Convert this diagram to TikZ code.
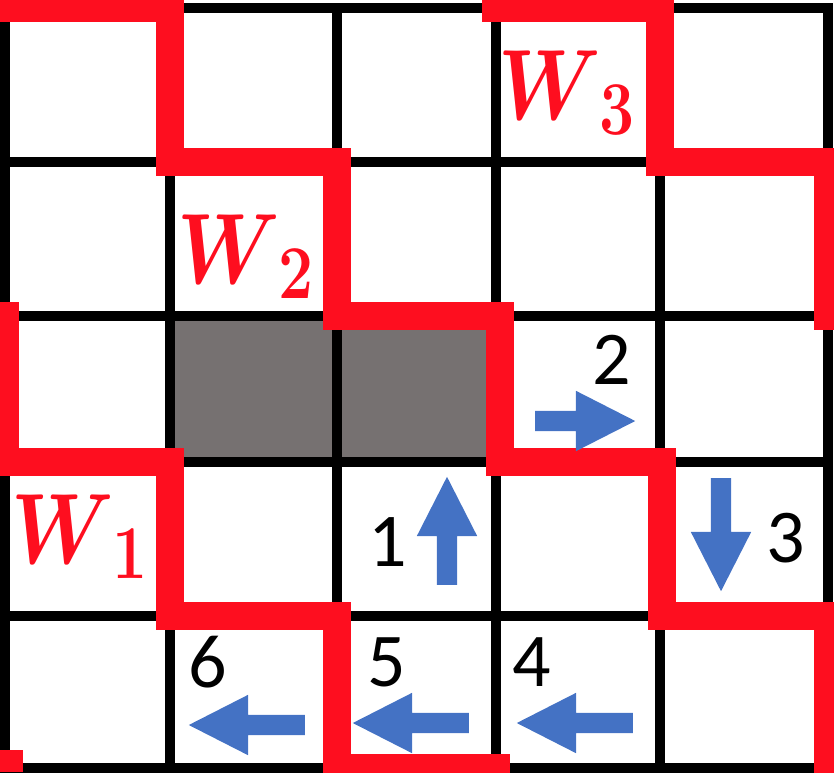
\documentclass[tikz,border=0pt]{standalone}
\usepackage{fix-cm}
\usepackage{fontspec}
\newfontfamily\numfont{Carlito}
\usetikzlibrary{shapes.arrows}
\definecolor{wallred}{RGB}{254,14,31}
\definecolor{blockgray}{RGB}{118,113,113}
\definecolor{moveblue}{RGB}{68,114,196}
\begin{document}
\begin{tikzpicture}[x=1pt,y=-1pt,
  gridline/.style={line width=10pt,line cap=rect},
  wall/.style={wallred,line width=28pt,line cap=rect,line join=miter},
  move/.style={single arrow,fill=moveblue,inner xsep=0pt,inner ysep=10pt,anchor=tail,
    single arrow head extend=20pt,single arrow tip angle=54,minimum height=#1},
  num/.style={inner sep=0pt,font=\numfont\fontsize{76}{80}\selectfont},
  wlabel/.style={inner sep=0pt,xscale=0.82,text=wallred,font=\fontsize{100}{100}\selectfont\boldmath}]
\useasboundingbox (0,0) rectangle (834,772);
\fill[blockgray] (170,316) rectangle (496,462);
\foreach \x in {5,170,337,496,660,828} \draw[gridline] (\x,8) -- (\x,768);
\foreach \y in {8,162,316,462,616,768} \draw[gridline] (5,\y) -- (828,\y);
\draw[wall] (496,8) -- (660,8) -- (660,162) -- (828,162) -- (828,316);
\draw[wall] (5,8) -- (170,8) -- (170,162) -- (337,162) -- (337,316) -- (500,316)
  -- (500,462) -- (662,462) -- (662,616) -- (828,616) -- (828,768);
\draw[wall] (5,316) -- (5,462) -- (170,462) -- (170,616) -- (337,616) -- (337,768) -- (496,768);
\fill[wallred] (0,750) rectangle (23,772);
\node[wlabel] (w1) at (80,537) {$W_{\,\mbox{\fontsize{76}{76}\selectfont\bfseries 1}}$};
\node[wlabel] (w2) at (246,257) {$W_{\,\mbox{\fontsize{76}{76}\selectfont\bfseries 2}}$};
\node[wlabel] (w3) at (567,93) {$W_{\,\mbox{\fontsize{76}{76}\selectfont\bfseries 3}}$};
\node[move=108pt,rotate=90] (a1) at (447,585) {};
\node[move=100pt] (a2) at (535,421) {};
\node[move=113pt,rotate=-90] (a3) at (721,478) {};
\node[move=116pt,rotate=180] (a4) at (633,723) {};
\node[move=116pt,rotate=180] (a5) at (469,723) {};
\node[move=116pt,rotate=180] (a6) at (305,725) {};
\node[num] (n1) at (388,542) {1};
\node[num] (n2) at (612,360) {2};
\node[num] (n3) at (786,538) {3};
\node[num] (n4) at (532,662) {4};
\node[num] (n5) at (387,662) {5};
\node[num] (n6) at (208,662) {6};
\end{tikzpicture}
\end{document}
